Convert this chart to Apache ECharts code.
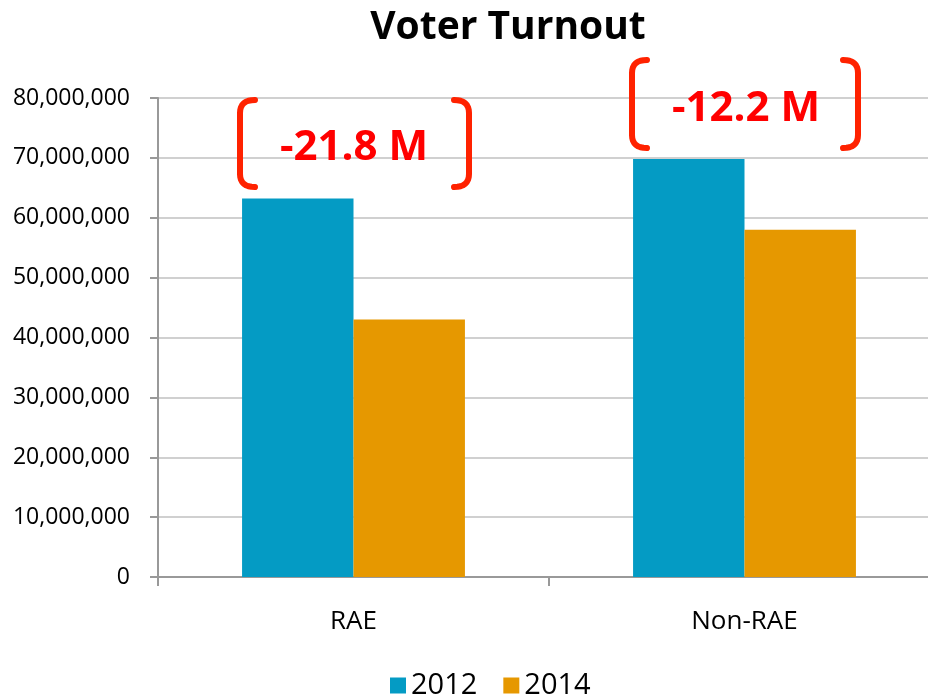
<!DOCTYPE html>
<html>
<head>
<meta charset="utf-8">
<script src="https://cdn.jsdelivr.net/npm/echarts@6/dist/echarts.min.js"></script>
<style>
    html, body { margin: 0; padding: 0; background: #fff; overflow: hidden; }
    #chart { width: 928px; height: 697px; }
</style>
</head>
<body>
<div id="chart"></div>
<script>
var categories = ["RAE", "Non-RAE"];
var years = ["2012", "2014"];
var turnout2012 = [63200000, 69800000];
var turnout2014 = [43000000, 58000000];
var changeLabels = ["-21.8 M", "-12.2 M"];

var font = "'Open Sans', sans-serif";
var red = "#ff2200";

// rounded bracket as a polyline; dir = 1 opens right, -1 opens left
function bracketPoints(x, top, bottom, dir) {
    var pts = [];
    var w = 15, r = 13;
    var i, t;
    for (i = 0; i <= 8; i++) {
        t = i / 8;
        pts.push([
            (1 - t) * (1 - t) * (x + w * dir) + 2 * (1 - t) * t * x + t * t * x,
            (1 - t) * (1 - t) * top + 2 * (1 - t) * t * top + t * t * (top + r)
        ]);
    }
    for (i = 0; i <= 8; i++) {
        t = i / 8;
        pts.push([
            (1 - t) * (1 - t) * x + 2 * (1 - t) * t * x + t * t * (x + w * dir),
            (1 - t) * (1 - t) * (bottom - r) + 2 * (1 - t) * t * bottom + t * t * bottom
        ]);
    }
    return pts;
}

function bracket(x, top, bottom, dir) {
    return {
        type: "polyline",
        shape: { points: bracketPoints(x, top, bottom, dir) },
        style: { stroke: red, lineWidth: 6, fill: null, lineCap: "round", lineJoin: "round" },
        z: 100
    };
}

var chart = echarts.init(document.getElementById("chart"));

chart.setOption({
    animation: false,
    title: {
        text: "Voter Turnout",
        left: 503,
        textAlign: "center",
        top: 3,
        textStyle: { fontFamily: font, fontSize: 39, fontWeight: "bold", color: "#000" }
    },
    legend: {
        data: years,
        bottom: -8,
        left: 385,
        itemWidth: 16,
        itemHeight: 16,
        itemGap: 26,
        icon: "rect",
        textStyle: { fontFamily: font, fontSize: 29, color: "#000" }
    },
    grid: { left: 158, right: -12, top: 98, bottom: 120, containLabel: false, outerBoundsMode: "none" },
    xAxis: {
        type: "category",
        data: categories,
        axisLine: { lineStyle: { color: "#999", width: 2 } },
        axisTick: { show: true, length: 9, lineStyle: { color: "#999", width: 2 } },
        axisLabel: { fontFamily: font, fontSize: 26, color: "#000", margin: 32 }
    },
    yAxis: {
        type: "value",
        min: 0,
        max: 80000000,
        interval: 10000000,
        axisLine: { show: true, lineStyle: { color: "#999", width: 2 } },
        axisTick: { show: true, length: 8, lineStyle: { color: "#999", width: 2 } },
        splitLine: { lineStyle: { color: "#d0d0d0", width: 2 } },
        axisLabel: {
            fontFamily: font, fontSize: 23, color: "#000", margin: 28,
            formatter: function (v) { return v.toLocaleString("en-US"); }
        }
    },
    series: [
        {
            name: "2012", type: "bar", data: turnout2012,
            itemStyle: { color: "#049bc4" },
            barGap: "0%", barCategoryGap: "43%"
        },
        {
            name: "2014", type: "bar", data: turnout2014,
            itemStyle: { color: "#e69800" }
        }
    ],
    graphic: [
        bracket(240, 100, 187, 1),
        bracket(469, 100, 187, -1),
        {
            type: "text", x: 354, y: 148, z: 100,
            style: {
                text: changeLabels[0], fill: "#ff0000", font: "bold 42px " + font,
                textAlign: "center", textVerticalAlign: "middle"
            }
        },
        bracket(632, 60, 148, 1),
        bracket(858, 60, 148, -1),
        {
            type: "text", x: 746, y: 109, z: 100,
            style: {
                text: changeLabels[1], fill: "#ff0000", font: "bold 42px " + font,
                textAlign: "center", textVerticalAlign: "middle"
            }
        }
    ]
});
</script>
</body>
</html>
